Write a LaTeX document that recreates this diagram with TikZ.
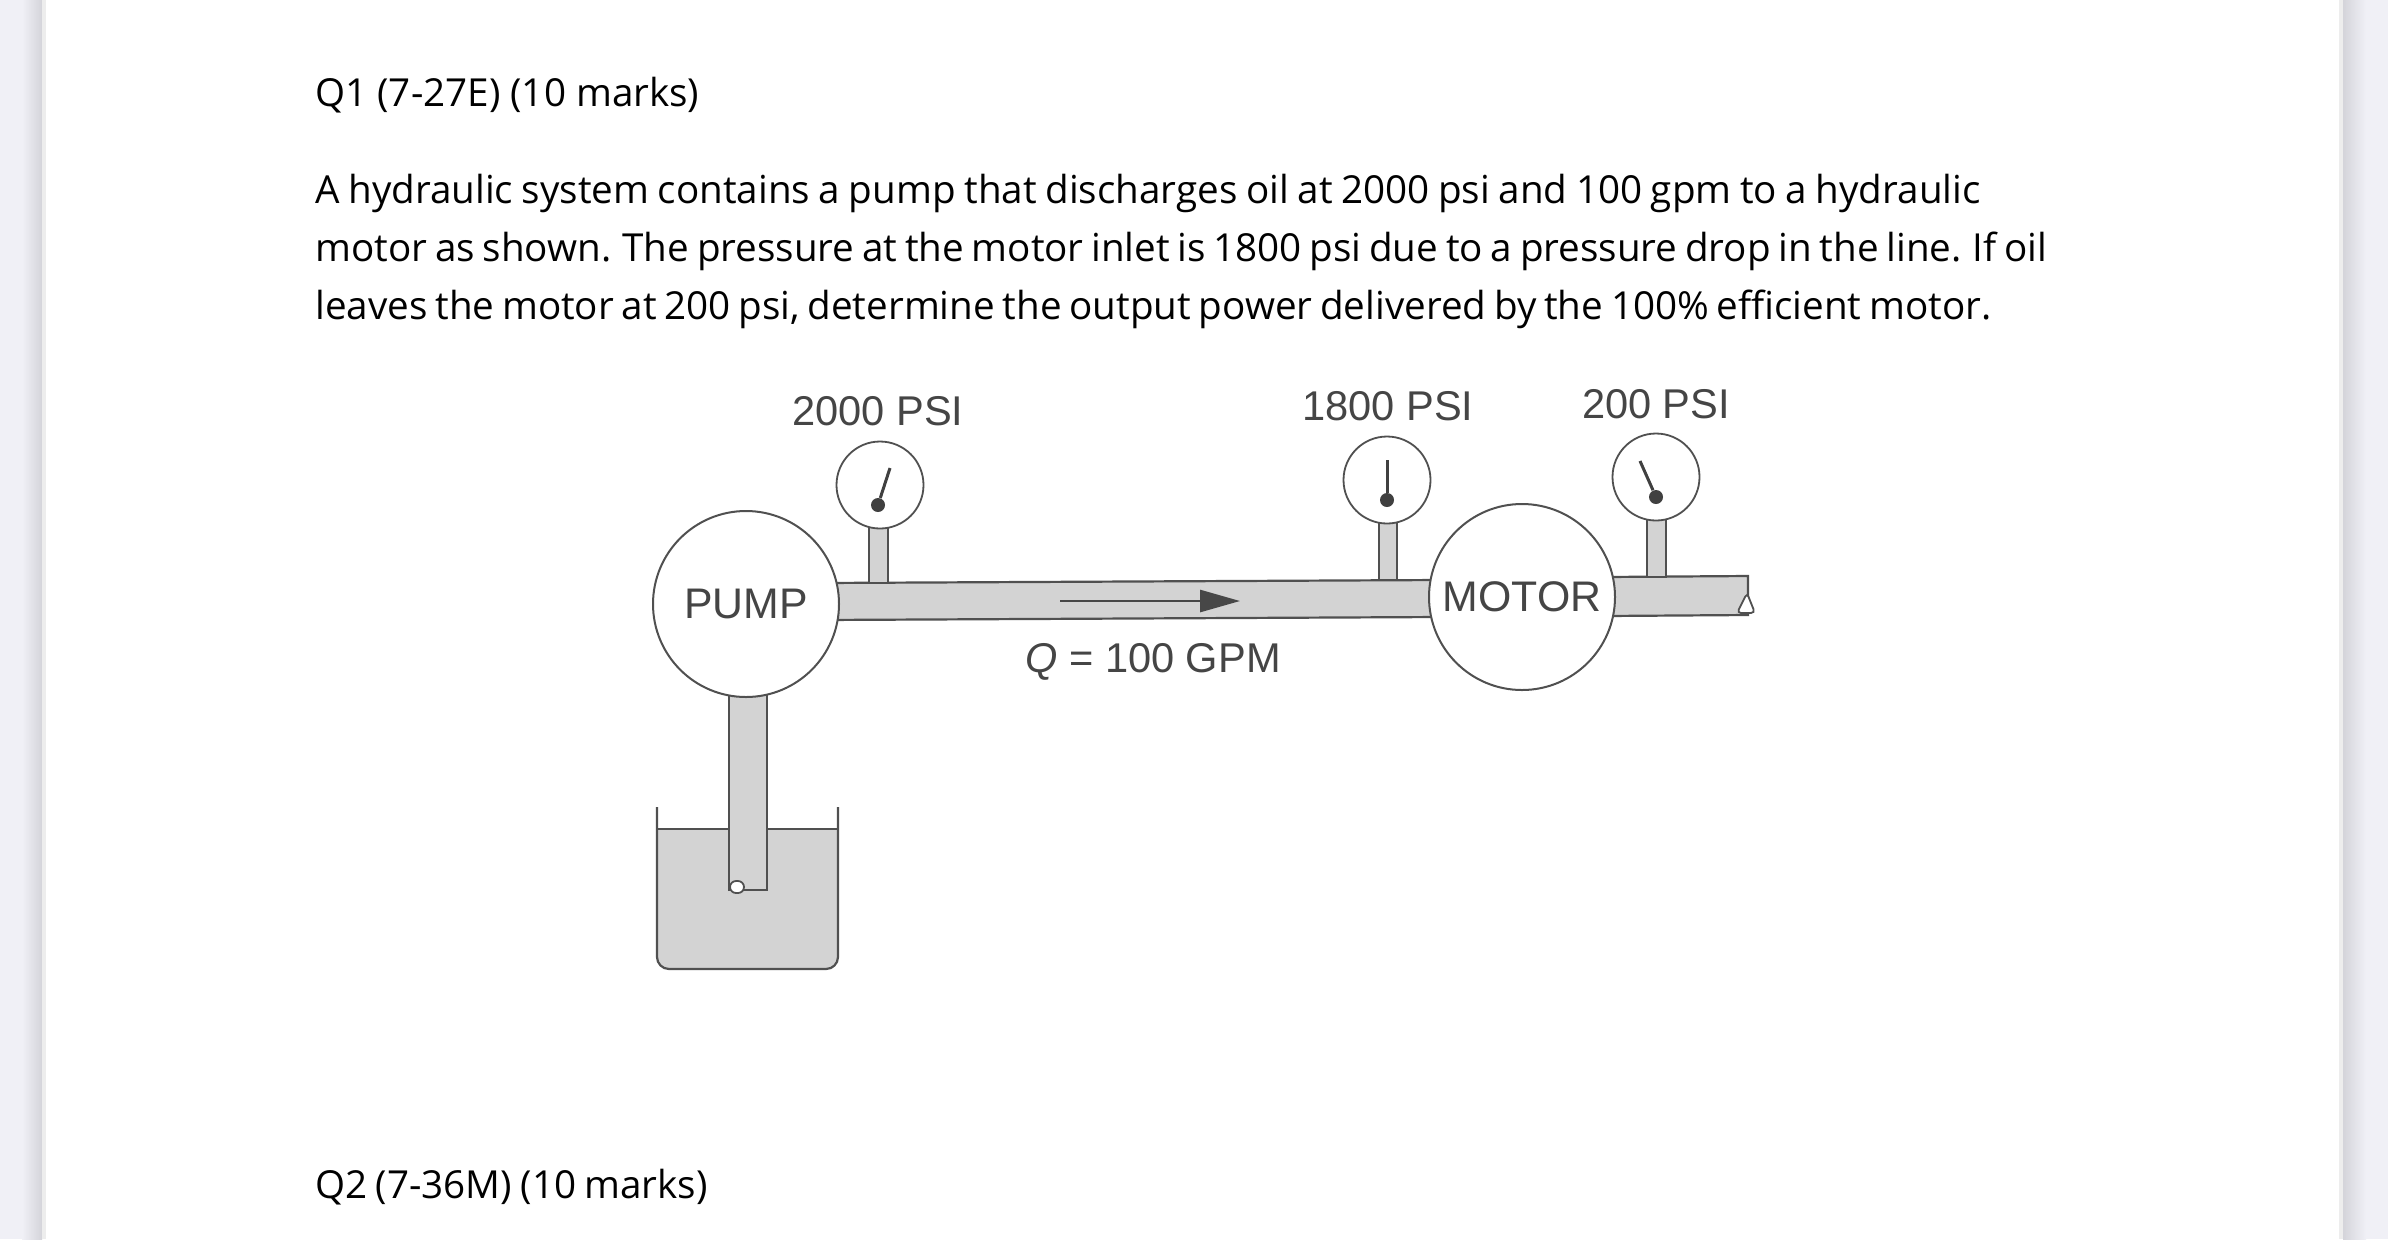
\documentclass[tikz,border=0pt]{standalone}
\usepackage{fontspec}
\setmainfont{Open Sans}
\newfontfamily\figfont{Liberation Sans}
\usetikzlibrary{arrows.meta}
\definecolor{pagebg}{HTML}{F0F0F6}
\definecolor{pageshade}{HTML}{D4D4DA}
\definecolor{pageedge}{HTML}{EDEDED}
\definecolor{oil}{HTML}{D3D3D3}
\definecolor{ink}{HTML}{505050}
\definecolor{figtext}{HTML}{454545}
\newcommand{\fitline}[2]{\hbox to #1{\spaceskip=.2em plus 1fil minus 1fil\relax #2\hfil}}
\tikzset{
  x=0.5pt,y=-0.5pt,
  body/.style={anchor=base west,inner sep=0pt,font=\fontsize{19.3}{23}\selectfont,text=black},
  figlabel/.style={inner sep=0pt,font=\figfont\fontsize{20.8}{24}\selectfont,text=figtext},
  unitlabel/.style={inner sep=0pt,font=\figfont\fontsize{21.4}{24}\selectfont,text=figtext},
  unit/.style={circle,draw=ink,fill=white,line width=1pt,inner sep=0pt,minimum size=93pt},
  gauge/.style={circle,draw=ink,fill=white,line width=0.9pt,inner sep=0pt,minimum size=43.5pt},
  pipe/.style={draw=ink,fill=oil,line width=1.1pt},
  needle/.style={draw=black!75,line width=1.5pt},
  hub/.style={circle,fill=black!75,inner sep=0pt,minimum size=7pt},
}
\begin{document}
\begin{tikzpicture}
\useasboundingbox (0,0) rectangle (2388,1239);
\fill[pagebg] (0,0) rectangle (2388,1239);
\shade[left color=pagebg,right color=pageshade] (22,0) rectangle (42,1239);
\shade[left color=pageshade,right color=pagebg] (2343,0) rectangle (2366,1239);
\fill[pageedge] (42,0) rectangle (2343,1239);
\fill[white] (46,0) rectangle (2339,1239);
% text
\node[body] (q1) at (315,106) {Q1 (7-27E) (10 marks)};
\node[body] (l1) at (315,203) {\fitline{833pt}{A hydraulic system contains a pump that discharges oil at 2000 psi and 100 gpm to a hydraulic}};
\node[body] (l2) at (315,261) {\fitline{866pt}{motor as shown. The pressure at the motor inlet is 1800 psi due to a pressure drop in the line. If oil}};
\node[body] (l3) at (315,319) {\fitline{838pt}{leaves the motor at 200 psi, determine the output power delivered by the 100\% efficient motor.}};
\node[body] (q2) at (315,1198) {\fitline{196.5pt}{Q2 (7-36M) (10 marks)}};
% tank
\fill[oil] (657,829) -- (838,829) -- (838,957) arc[start angle=0,end angle=90,radius=12] -- (669,969) arc[start angle=90,end angle=180,radius=12] -- cycle;
\draw[ink,line width=1.1pt] (657,807) -- (657,957) arc[start angle=180,end angle=90,radius=12] -- (826,969) arc[start angle=90,end angle=0,radius=12] -- (838,807);
\draw[ink,line width=1pt] (657,829) -- (838,829);
% pipes
\draw[pipe] (729,690) rectangle (767,890);
\draw[draw=ink,fill=white,line width=0.9pt,rounded corners=3pt] (730,881) rectangle (744,893);
\path[pipe] (820,583) -- (1440,580) -- (1440,617) -- (820,620) -- cycle;
\path[pipe] (1605,577) -- (1748,576) -- (1748,615) -- (1605,616) -- cycle;
\draw[draw=ink,fill=white,line width=0.9pt,rounded corners=2pt] (1737,613) -- (1747,593) -- (1755,613) -- cycle;
\draw[pipe] (869,520) rectangle (888,583);
\draw[pipe] (1379,516) rectangle (1397,580);
\draw[pipe] (1647,512) rectangle (1666,577);
% flow arrow
\coordinate (fa) at (1060,601);
\coordinate (fb) at (1240,601);
\draw[black!72,line width=1.4pt,-{Triangle[length=20pt,width=11pt]}] (fa) -- (fb);
% units
\node[unit] (pump) at (746,604) {};
\node[unit] (motor) at (1522,597) {};
\node[unitlabel] at (pump) {PUMP};
\node[unitlabel] at (motor) {MOTOR};
% gauges
\node[gauge] (g1) at (880,485) {};
\node[gauge] (g2) at (1387,480) {};
\node[gauge] (g3) at (1656,477) {};
\node[hub] (h1) at (878,505) {};
\node[hub] (h2) at (1387,500) {};
\node[hub] (h3) at (1656,497) {};
\coordinate (t1) at (890,468);
\coordinate (t2) at (1387,460);
\coordinate (t3) at (1640,461);
\draw[needle] (h1) -- (t1);
\draw[needle] (h2) -- (t2);
\draw[needle] (h3) -- (t3);
% labels
\node[figlabel] (p1) at (878,411) {2000 PSI};
\node[figlabel] (p2) at (1388,406) {1800 PSI};
\node[figlabel] (p3) at (1656,404) {200 PSI};
\node[figlabel] (qq) at (1153,662) {\textit{Q} = 100 GPM};
\end{tikzpicture}
\end{document}
